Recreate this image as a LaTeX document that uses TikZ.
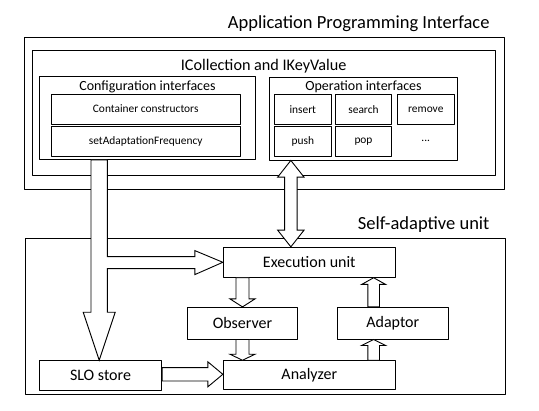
\documentclass[tikz,border=0pt]{standalone}
\usepackage{fontspec}
\setmainfont{Carlito}
\usetikzlibrary{calc}
\tikzset{
  box/.style={draw,line width=0.9pt,inner sep=0pt},
  blockarr/.style={draw,fill=white,line width=0.9pt,line join=miter},
  opbox/.style={box,minimum width=56.3,font=\fontsize{11.4}{13}\selectfont},
}
\begin{document}
\begin{tikzpicture}[x=1pt,y=-1pt,line join=round,font=\fontsize{16}{18}\selectfont]
		\useasboundingbox (0,0) rectangle (539,411);
		% vertical block arrow: start, tip, shaft half width, head half width, head length
		\def\vblock#1#2#3#4#5{\draw[blockarr] let \p1=(#1),\p2=(#2),\n1={ifthenelse(\y2>\y1,1,-1)} in
			(\x2-#3,\y1)--(\x2-#3,\y2-\n1*#5)--(\x2-#4,\y2-\n1*#5)--(\x2,\y2)
			--(\x2+#4,\y2-\n1*#5)--(\x2+#3,\y2-\n1*#5)--(\x2+#3,\y1)--cycle;}
		% API part
		\node[box,minimum width=480,minimum height=152] (api) at (264,113.3) {};
		\node[anchor=east,font=\fontsize{18.5}{20}\selectfont] (apititle) at (493,24) {Application Programming Interface};
		\node[box,minimum width=462.7,minimum height=125.6] (icoll) at (263.7,112.8) {};
		\node[font=\fontsize{16.2}{18}\selectfont] (icolltitle) at (263.7,66) {ICollection and IKeyValue};
		\node[box,minimum width=216.4,minimum height=83.3] (config) at (147.5,118.3) {};
		\node[font=\fontsize{14}{16}\selectfont] (configtitle) at (147.5,86.5) {Configuration interfaces};
		\node[opbox,minimum width=189.3,minimum height=30] (ctor) at (145.7,109) {Container constructors};
		\node[opbox,minimum width=189.3,minimum height=30.3] (freq) at (145.7,141.2) {setAdaptationFrequency};
		\node[box,minimum width=188.4,minimum height=83] (ops) at (363.5,118.5) {};
		\node[font=\fontsize{14}{16}\selectfont] (opstitle) at (363.5,86.5) {Operation interfaces};
		\node[opbox,minimum height=30] (insert) at (302.8,109.7) {insert};
		\node[opbox,minimum height=30] (search) at (363.5,109.7) {search};
		\node[opbox,minimum height=30] (remove) at (425.8,109.7) {remove};
		\node[opbox,minimum height=30.3] (push) at (302.8,141.2) {push};
		\node[opbox,minimum height=30.3] (pop) at (363.5,141.2) {pop};
		\node[font=\fontsize{11.4}{13}\selectfont] (more) at (425.8,141.2) {...};
		% self-adaptive part
		\node[box,minimum width=480,minimum height=156] (self) at (265,316.3) {};
		\node[anchor=east,font=\fontsize{18.5}{20}\selectfont] (selftitle) at (493,225) {Self-adaptive unit};
		\node[box,minimum width=172,minimum height=30] (exec) at (309.3,262.3) {Execution unit};
		\node[box,minimum width=110.4,minimum height=31.7] (observer) at (242.5,323.2) {Observer};
		\node[box,minimum width=111,minimum height=31.7] (adaptor) at (392.8,323.2) {Adaptor};
		\node[box,minimum width=122.4,minimum height=29.6] (slo) at (100.5,375.5) {SLO store};
		\node[box,minimum width=172,minimum height=28.6] (analyzer) at (309.3,375) {Analyzer};
		% configuration arrow to SLO store, with branch to execution unit
		\coordinate (cfgout) at (99.2,160);
		\draw[blockarr] let \p1=(cfgout),\p2=(slo.north-|cfgout),\p3=(exec.west) in
			(\x1-8.2pt,\y1)--(\x1-8.2pt,\y2+48pt)--(\x1-16pt,\y2+48pt)--(\x2,\y2)--(\x1+16pt,\y2+48pt)
			--(\x1+8.2pt,\y2+48pt)--(\x1+8.2pt,\y3-6.3pt)--(\x3-28pt,\y3-6.3pt)--(\x3-28pt,\y3-12.3pt)
			--(\x3,\y3)--(\x3-28pt,\y3+11.7pt)--(\x3-28pt,\y3+5.7pt)--(\x1+8.2pt,\y3+5.7pt)
			--(\x1+8.2pt,\y1)--cycle;
		% operations <-> execution unit
		\draw[blockarr] let \p1=($(ops.south west)+(22,0)$),\p2=($(exec.north west)+(68,0)$) in
			(\x1,\y1)--(\x1-13.2pt,\y1-16.7pt)--(\x1-6.3pt,\y1-16.7pt)--(\x2-6.3pt,\y2+16.7pt)
			--(\x2-13.2pt,\y2+16.7pt)--(\x2,\y2)--(\x2+13.2pt,\y2+16.7pt)--(\x2+6.3pt,\y2+16.7pt)
			--(\x1+6.3pt,\y1-16.7pt)--(\x1+13.2pt,\y1-16.7pt)--cycle;
		% loop inside the unit
		\vblock{exec.south-|observer.north}{observer.north}{6.5pt}{12.5pt}{8pt}
		\vblock{observer.south}{analyzer.north-|observer.south}{6.5pt}{12.5pt}{6pt}
		\vblock{$(analyzer.north west)+(150.8,0)$}{$(adaptor.south west)+(36.8,0)$}{5.8pt}{12pt}{6pt}
		\vblock{$(adaptor.north west)+(36.8,0)$}{$(exec.south west)+(150.8,0)$}{5.8pt}{12pt}{6.7pt}
		\draw[blockarr] let \p1=($(slo.east)+(0,-1.2)$),\p2=(analyzer.west|-\p1) in
			(\x1,\y1-6.7pt)--(\x2-15pt,\y1-6.7pt)--(\x2-15pt,\y1-12.5pt)--(\x2,\y1)
			--(\x2-15pt,\y1+12.5pt)--(\x2-15pt,\y1+6.7pt)--(\x1,\y1+6.7pt)--cycle;
\end{tikzpicture}
\end{document}
